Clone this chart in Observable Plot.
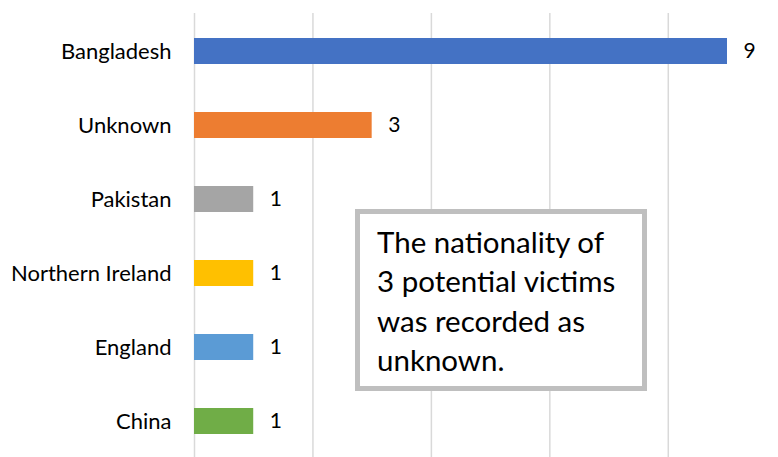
<!DOCTYPE html>
<html>
<head>
<meta charset="utf-8">
<script src="https://cdn.jsdelivr.net/npm/d3@7"></script>
<script src="https://cdn.jsdelivr.net/npm/@observablehq/plot@0.6"></script>
<style>
  html, body { margin: 0; padding: 0; background: #fff; }
  #wrap { position: relative; width: 778px; height: 457px; overflow: hidden; }
  #note {
    position: absolute; left: 355px; top: 209px; width: 292px; height: 182px;
    box-sizing: border-box; border: 5.5px solid #bfbfbf; background: #fff;
    font-family: Lato, "Open Sans", sans-serif; font-size: 29.5px; line-height: 39.3px;
    color: #000; padding: 8px 0 0 17px;
  }
</style>
</head>
<body>
<div id="wrap"><div id="chart"></div><div id="note">The nationality of<br>3 potential victims<br>was recorded as<br>unknown.</div></div>
<script>
const countries = ["Bangladesh", "Unknown", "Pakistan", "Northern Ireland", "England", "China"];
const counts = [9, 3, 1, 1, 1, 1];
const barColors = ["#4472C4", "#ED7D31", "#A5A5A5", "#FFC000", "#5B9BD5", "#70AD47"];
const gridTicks = [0, 2, 4, 6, 8];

const data = countries.map((c, i) => ({country: c, value: counts[i]}));

const chart = Plot.plot({
  width: 778,
  height: 457,
  marginLeft: 194,
  marginRight: 51,
  marginTop: 13,
  marginBottom: 0,
  style: {fontFamily: "Lato, 'Open Sans', sans-serif", background: "#fff", color: "#000"},
  x: {domain: [0, 9], axis: null},
  y: {domain: countries, range: [12, 459.6], paddingInner: 0.642, paddingOuter: 0.321, label: null},
  color: {domain: countries, range: barColors},
  marks: [
    Plot.ruleX(gridTicks, {stroke: "#d9d9d9", strokeWidth: 1.5}),
    Plot.barX(data, {x: "value", y: "country", fill: "country"}),
    Plot.text(data, {x: "value", y: "country", text: d => String(d.value), textAnchor: "start", dx: 16, fontSize: 21, fill: "#000"}),
    Plot.axisY({tickSize: 0, tickPadding: 23, fontSize: 22, label: null})
  ]
});
document.getElementById("chart").appendChild(chart);
</script>
</body>
</html>
